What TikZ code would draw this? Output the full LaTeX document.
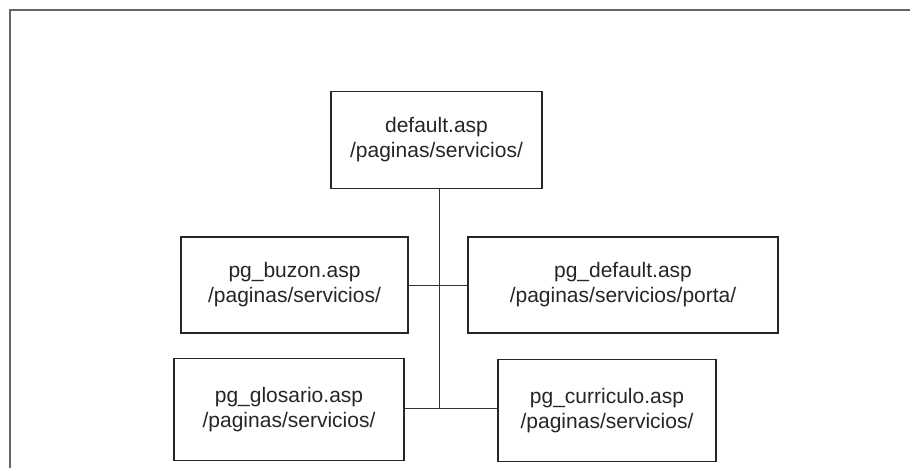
\documentclass[tikz,border=0pt]{standalone}
\usepackage{fontspec}
\setmainfont{Liberation Sans}
\begin{document}
\begin{tikzpicture}[x=1pt,y=-1pt,
  pagebox/.style={draw=black!85,line width=1.3pt,fill=white,inner sep=0pt,align=center,
    font=\fontsize{21}{25}\selectfont,text=black!85},
  link/.style={draw=black!80,line width=0.9pt}]
\useasboundingbox (0,0) rectangle (910,468);
\fill[white] (0,0) rectangle (910,468);
\draw[black!60,line width=1.6pt] (10,468) -- (10,10) -- (910,10);
\node[pagebox,minimum width=211pt,minimum height=97pt] (def) at (436.5,140) {default.asp\\/paginas/servicios/};
\node[pagebox,minimum width=227pt,minimum height=96pt] (buz) at (294.5,285) {pg\_buzon.asp\\/paginas/servicios/};
\node[pagebox,minimum width=310pt,minimum height=96pt] (pgd) at (623,285) {pg\_default.asp\\/paginas/servicios/porta/};
\node[pagebox,minimum width=230pt,minimum height=102pt] (glo) at (289,409.5) {pg\_glosario.asp\\/paginas/servicios/};
\node[pagebox,minimum width=218pt,minimum height=102pt] (cur) at (607,410.5) {pg\_curriculo.asp\\/paginas/servicios/};
\coordinate (j1) at (439,285);
\coordinate (j2) at (439,408);
\draw[link] (def.south -| j1) -- (j2);
\draw[link] (buz.east |- j1) -- (pgd.west |- j1);
\draw[link] (glo.east |- j2) -- (cur.west |- j2);
\end{tikzpicture}
\end{document}
